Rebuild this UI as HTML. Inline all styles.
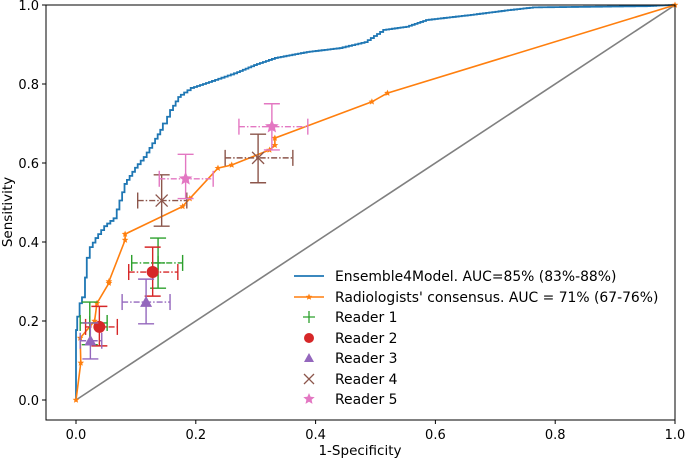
<!DOCTYPE html>
<html><head><meta charset="utf-8"><style>
body{margin:0;background:#fff}
svg{font-family:"DejaVu Sans","Liberation Sans",sans-serif}
</style></head><body>
<svg id="chart" width="685" height="458" xmlns="http://www.w3.org/2000/svg"></svg>
<script>
const xTicks=[0,0.2,0.4,0.6,0.8,1.0];
const yTicks=[0,0.2,0.4,0.6,0.8,1.0];
const modelFpr=[0,0,0.002,0.01,0.015,0.018,0.023,0.028,0.037,0.052,0.068,0.077,0.085,0.103,0.118,0.132,0.145,0.152,0.162,0.175,0.197,0.227,0.269,0.302,0.337,0.39,0.445,0.487,0.518,0.556,0.589,0.664,0.726,0.768,0.953,1];
const modelTpr=[0,0.127,0.177,0.245,0.26,0.31,0.36,0.387,0.41,0.44,0.46,0.505,0.547,0.588,0.615,0.65,0.684,0.70,0.734,0.767,0.79,0.805,0.827,0.848,0.866,0.881,0.891,0.906,0.937,0.945,0.962,0.975,0.987,0.994,0.997,1];
const radFpr=[0,0.008,0.007,0.031,0.035,0.055,0.055,0.082,0.082,0.178,0.19,0.237,0.26,0.323,0.332,0.332,0.494,0.52,1];
const radTpr=[0,0.094,0.157,0.2,0.245,0.296,0.30,0.405,0.42,0.49,0.51,0.587,0.595,0.633,0.645,0.663,0.755,0.777,1];
// readers: x, y, xlo, xhi, ylo, yhi
const r1X=[0.137,0.023],r1Y=[0.347,0.195],r1Xlo=[0.093,0.007],r1Xhi=[0.178,0.052],r1Ylo=[0.283,0.14],r1Yhi=[0.41,0.248];
const r2X=[0.128,0.039],r2Y=[0.324,0.185],r2Xlo=[0.088,0.016],r2Xhi=[0.17,0.069],r2Ylo=[0.263,0.137],r2Yhi=[0.387,0.237];
const r3X=[0.117,0.024],r3Y=[0.248,0.15],r3Xlo=[0.077,0.007],r3Xhi=[0.157,0.043],r3Ylo=[0.193,0.104],r3Yhi=[0.306,0.195];
const r4X=[0.143,0.304],r4Y=[0.505,0.613],r4Xlo=[0.103,0.249],r4Xhi=[0.185,0.362],r4Ylo=[0.44,0.55],r4Yhi=[0.57,0.673];
const r5X=[0.183,0.327],r5Y=[0.56,0.692],r5Xlo=[0.139,0.272],r5Xhi=[0.229,0.387],r5Ylo=[0.51,0.633],r5Yhi=[0.622,0.75];

const svg=document.getElementById('chart');
const NS='http://www.w3.org/2000/svg';
const X=v=>76+v*599, Y=v=>400-v*395;
function mk(tag,attrs,parent){const e=document.createElementNS(NS,tag);for(const k in attrs)e.setAttribute(k,attrs[k]);(parent||svg).appendChild(e);return e;}
function pts(xs,ys){return xs.map((x,i)=>X(x)+','+Y(ys[i])).join(' ');}
function stepPts(xs,ys){let p=[X(xs[0])+','+Y(ys[0])];for(let i=1;i<xs.length;i++){const n=Math.max(1,Math.round((X(xs[i])-X(xs[i-1]))/3));for(let k=1;k<=n;k++){const fx=xs[i-1]+(xs[i]-xs[i-1])*k/n,fy=ys[i-1]+(ys[i]-ys[i-1])*k/n,px=xs[i-1]+(xs[i]-xs[i-1])*(k-1)/n;p.push(X(px)+','+Y(fy));p.push(X(fx)+','+Y(fy));}}return p.join(' ');}

let d=mk('line',{x1:X(0),y1:Y(0),x2:X(1),y2:Y(1),stroke:'#808080','stroke-width':1.6});



let ml=mk('polyline',{points:stepPts(modelFpr,modelTpr),fill:'none',stroke:'#1f77b4','stroke-width':1.8});



function star(cx,cy,r,color,name){
 let p=[];for(let i=0;i<10;i++){const a=-Math.PI/2+i*Math.PI/5;const rr=i%2?r*0.45:r;p.push((cx+rr*Math.cos(a)).toFixed(1)+','+(cy+rr*Math.sin(a)).toFixed(1));}
 const e=mk('polygon',{points:p.join(' '),fill:color});
 
 
}
let rl=mk('polyline',{points:pts(radFpr,radTpr),fill:'none',stroke:'#ff7f0e','stroke-width':1.6});


radFpr.forEach((x,i)=>star(X(x),Y(radTpr[i]),3.5,'#ff7f0e','radiologists-point'));

function marker(type,cx,cy,c,s){
 let e;
 if(type==='plus'){e=mk('path',{d:`M${cx-s} ${cy}H${cx+s}M${cx} ${cy-s}V${cy+s}`,stroke:c,'stroke-width':1.3,fill:'none'});}
 else if(type==='circle'){e=mk('circle',{cx,cy,r:s,fill:c});}
 else if(type==='tri'){e=mk('polygon',{points:`${cx},${cy-s} ${cx-s},${cy+s*0.8} ${cx+s},${cy+s*0.8}`,fill:c});}
 else if(type==='x'){e=mk('path',{d:`M${cx-s} ${cy-s}L${cx+s} ${cy+s}M${cx-s} ${cy+s}L${cx+s} ${cy-s}`,stroke:c,'stroke-width':1.3,fill:'none'});}
 else {star(cx,cy,s*1.2,c,'reader-marker');return;}
 
 
}
const readers=[
 {xs:r1X,ys:r1Y,xl:r1Xlo,xh:r1Xhi,yl:r1Ylo,yh:r1Yhi,c:'#2ca02c',m:'plus',s:7},
 {xs:r2X,ys:r2Y,xl:r2Xlo,xh:r2Xhi,yl:r2Ylo,yh:r2Yhi,c:'#d62728',m:'circle',s:6},
 {xs:r3X,ys:r3Y,xl:r3Xlo,xh:r3Xhi,yl:r3Ylo,yh:r3Yhi,c:'#9467bd',m:'tri',s:6},
 {xs:r4X,ys:r4Y,xl:r4Xlo,xh:r4Xhi,yl:r4Ylo,yh:r4Yhi,c:'#8c564b',m:'x',s:6},
 {xs:r5X,ys:r5Y,xl:r5Xlo,xh:r5Xhi,yl:r5Ylo,yh:r5Yhi,c:'#e377c2',m:'star',s:6}];
readers.forEach((r,ri)=>{
 r.xs.forEach((x,i)=>{
  const g=mk('g',{stroke:r.c,'stroke-width':1.4,fill:'none'});
  
  
  const cy=Y(r.ys[i]),cx=X(x),x1=X(r.xl[i]),x2=X(r.xh[i]),y1=Y(r.yl[i]),y2=Y(r.yh[i]);
  mk('line',{x1,y1:cy,x2,y2:cy,'stroke-dasharray':'6,2,1.5,2'},g);
  mk('line',{x1:x1,y1:cy-8,x2:x1,y2:cy+8},g);
  mk('line',{x1:x2,y1:cy-8,x2:x2,y2:cy+8},g);
  mk('line',{x1:cx,y1,x2:cx,y2},g);
  mk('line',{x1:cx-8,y1:y1,x2:cx+8,y2:y1},g);
  mk('line',{x1:cx-8,y1:y2,x2:cx+8,y2:y2},g);
  marker(r.m,cx,cy,r.c,r.s);
 });
});

let fr=mk('rect',{x:46,y:5,width:629,height:415,fill:'none',stroke:'#000','stroke-width':1});


xTicks.forEach(t=>{
 mk('line',{x1:X(t),y1:420,x2:X(t),y2:424,stroke:'#000'});
 const e=mk('text',{x:X(t),y:439,'text-anchor':'middle','font-size':13});e.textContent=t.toFixed(1);
 
 
});
yTicks.forEach(t=>{
 mk('line',{x1:42,y1:Y(t),x2:46,y2:Y(t),stroke:'#000'});
 const e=mk('text',{x:39,y:Y(t)+5,'text-anchor':'end','font-size':13});e.textContent=t.toFixed(1);
 
 
});
let xt=mk('text',{x:360,y:455,'text-anchor':'middle','font-size':13.5});xt.textContent='1-Specificity';


let yt=mk('text',{x:12,y:212,'text-anchor':'middle','font-size':13.5,transform:'rotate(-90 12 212)'});yt.textContent='Sensitivity';



const legLabels=[' Ensemble4Model. AUC=85% (83%-88%)',"Radiologists' consensus. AUC = 71% (67-76%)",'Reader 1','Reader 2','Reader 3','Reader 4','Reader 5'];
const legY=[276,297,317,338,358,379,399];
legLabels.forEach((l,i)=>{
 const y=legY[i];
 if(i===0){let e=mk('line',{x1:294,y1:y,x2:324,y2:y,stroke:'#1f77b4','stroke-width':1.8});}
 else if(i===1){let e=mk('line',{x1:294,y1:y,x2:324,y2:y,stroke:'#ff7f0e','stroke-width':1.6});star(309,y,3.5,'#ff7f0e','legend-swatch');}
 else {const r=readers[i-2];marker(r.m,309,y,r.c,r.m==='plus'?6:5);}
 const t=mk('text',{x:335,y:y+5,'font-size':13.9,'xml:space':'preserve'});t.textContent=l;
 
 
});
</script>
</body></html>
